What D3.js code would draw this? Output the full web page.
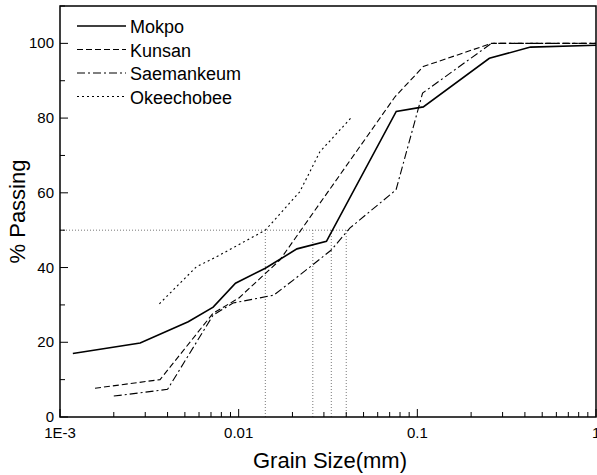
<!DOCTYPE html><html><head><script src="https://cdn.jsdelivr.net/npm/d3@7"></script>
<style>body{margin:0;background:#fff}text{font-family:"Liberation Sans",Arial,sans-serif}</style></head><body><svg id="c" width="597" height="475"></svg>
<script>
const mokpoX=[0.00118,0.00281,0.00522,0.0072,0.0096,0.0141,0.0212,0.031,0.0762,0.108,0.253,0.43,1];
const mokpoY=[17,19.8,25.5,29.4,35.8,39.8,45,47,81.8,83,96,99,99.5];
const kunsanX=[0.00157,0.00363,0.0072,0.01,0.017,0.075,0.108,0.26,1];
const kunsanY=[7.7,10,27.8,31.8,42,85.7,93.8,100,100];
const saeX=[0.002,0.004,0.0072,0.0093,0.0157,0.022,0.033,0.042,0.076,0.107,0.26,1];
const saeY=[5.6,7.4,27.3,30.5,32.6,38,44.7,50.6,60.8,86.7,100,100];
const okeX=[0.0036,0.0058,0.0076,0.0141,0.022,0.0285,0.043];
const okeY=[30.3,40.2,43,50,60.3,71,80.3];
const d50=[0.0141,0.026,0.033,0.04];
const names=["Mokpo","Kunsan","Saemankeum","Okeechobee"];
const dashes=[null,"6,3","8,3,2,3","2,3"];
const series=[[mokpoX,mokpoY],[kunsanX,kunsanY],[saeX,saeY],[okeX,okeY]];
const svg=d3.select("#c");
const L=60,R=596,T=6,B=417;
const x=d3.scaleLog().domain([0.001,1]).range([L,R]);
const y=d3.scaleLinear().domain([0,110]).range([B,T]);
const g=svg.append("g");
g.append("line").attr("x1",L).attr("x2",x(0.042)).attr("y1",y(50)).attr("y2",y(50)).attr("stroke","#555").attr("stroke-width",0.8).attr("stroke-dasharray","1,2");
d50.forEach(v=>g.append("line").attr("x1",x(v)).attr("x2",x(v)).attr("y1",y(0)).attr("y2",y(50)).attr("stroke","#555").attr("stroke-width",0.8).attr("stroke-dasharray","1,2"));
const line=d3.line().x(d=>x(d[0])).y(d=>y(d[1]));
series.forEach((s,i)=>{
 const pts=s[0].map((v,j)=>[v,s[1][j]]);
 g.append("path").attr("d",line(pts)).attr("fill","none").attr("stroke","#000").attr("stroke-width",i==0?1.6:1.1).attr("stroke-dasharray",dashes[i]);
});
svg.append("rect").attr("x",L).attr("y",T).attr("width",R-L).attr("height",B-T).attr("fill","none").attr("stroke","#000").attr("stroke-width",1.5);
const minors=[];for(let e=-3;e<0;e++)for(let k=1;k<10;k++)minors.push(k*Math.pow(10,e));minors.push(1);
minors.forEach(v=>{const major=[0.001,0.01,0.1,1].some(m=>Math.abs(m-v)<1e-9);
 svg.append("line").attr("x1",x(v)).attr("x2",x(v)).attr("y1",B).attr("y2",B-(major?8:5)).attr("stroke","#000").attr("stroke-width",1);});
[[0.001,"1E-3","middle"],[0.01,"0.01","middle"],[0.1,"0.1","middle"],[1,"1","start"]].forEach(([v,t,a])=>svg.append("text").attr("x",a=="start"?x(v)-4:x(v)).attr("y",B+21).attr("text-anchor",a).attr("font-size",15).text(t));
d3.range(0,111,10).forEach(v=>{const major=v%20==0;
 svg.append("line").attr("x1",L).attr("x2",L+(major?8:5)).attr("y1",y(v)).attr("y2",y(v)).attr("stroke","#000");
 if(major&&v<=100)svg.append("text").attr("x",L-6).attr("y",y(v)+5).attr("text-anchor","end").attr("font-size",15).text(v);});
svg.append("text").attr("x",(L+R)/2+2).attr("y",468).attr("text-anchor","middle").attr("font-size",22).text("Grain Size(mm)");
svg.append("text").attr("transform",`translate(25,${(T+B)/2}) rotate(-90)`).attr("text-anchor","middle").attr("font-size",22).text("% Passing");
names.forEach((n,i)=>{const yy=26+i*23.5;
 svg.append("line").attr("x1",77).attr("x2",126).attr("y1",yy).attr("y2",yy).attr("stroke","#000").attr("stroke-width",i==0?1.6:1.1).attr("stroke-dasharray",dashes[i]);
 svg.append("text").attr("x",130).attr("y",yy+7).attr("font-size",18).text(n);});
</script></body></html>
